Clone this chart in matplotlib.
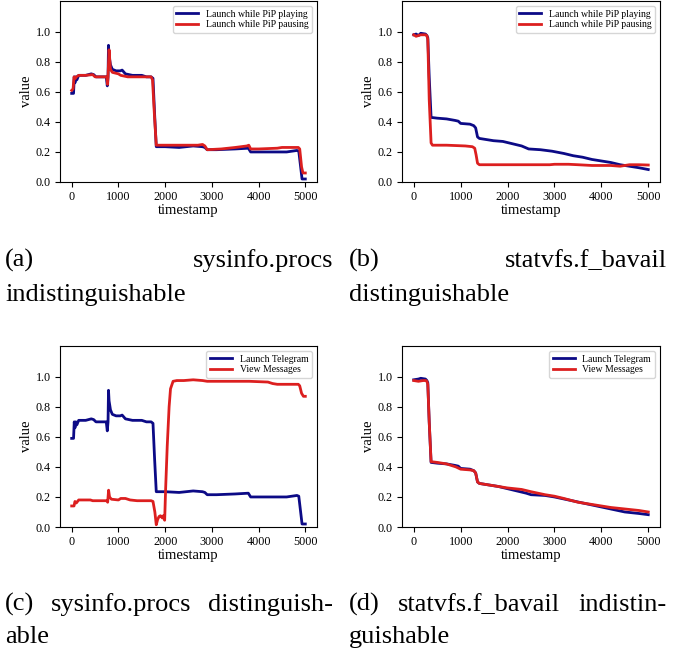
import matplotlib
matplotlib.use("Agg")
import matplotlib.pyplot as plt
from matplotlib.transforms import IdentityTransform

plt.rcParams['font.family'] = ['Liberation Serif', 'DejaVu Serif']

# ---------------- data ----------------
a_play_t = [0, 40, 55, 70, 90, 110, 150, 300, 420, 470, 520, 600, 740, 762, 778, 788, 800, 830, 870, 950, 1040, 1080, 1150, 1300, 1500, 1600, 1700, 1740, 1775, 1810, 2000, 2300, 2600, 2800, 2850, 2900, 3100, 3500, 3780, 3830, 4000, 4300, 4600, 4820, 4860, 4900, 4930, 5000]
a_play_v = [0.59, 0.59, 0.70, 0.66, 0.70, 0.68, 0.71, 0.71, 0.72, 0.715, 0.70, 0.70, 0.70, 0.64, 0.70, 0.91, 0.84, 0.78, 0.75, 0.74, 0.74, 0.745, 0.72, 0.71, 0.71, 0.70, 0.70, 0.69, 0.45, 0.235, 0.235, 0.23, 0.24, 0.235, 0.23, 0.215, 0.215, 0.22, 0.225, 0.20, 0.20, 0.20, 0.20, 0.21, 0.205, 0.10, 0.02, 0.02]
a_pause_t = [0, 30, 50, 80, 100, 150, 300, 450, 500, 600, 750, 770, 790, 800, 830, 870, 1000, 1050, 1200, 1500, 1700, 1730, 1770, 1810, 2000, 2400, 2700, 2800, 2850, 2900, 3200, 3500, 3750, 3790, 3830, 4000, 4400, 4500, 4850, 4880, 4920, 4950, 5000]
a_pause_v = [0.61, 0.62, 0.70, 0.69, 0.70, 0.71, 0.71, 0.715, 0.70, 0.70, 0.70, 0.65, 0.80, 0.88, 0.75, 0.73, 0.72, 0.71, 0.70, 0.70, 0.70, 0.68, 0.45, 0.245, 0.245, 0.245, 0.245, 0.25, 0.24, 0.215, 0.22, 0.23, 0.24, 0.245, 0.22, 0.22, 0.225, 0.23, 0.23, 0.22, 0.10, 0.06, 0.06]

b_play_t = [0, 50, 100, 150, 250, 280, 300, 330, 370, 500, 700, 880, 950, 1000, 1200, 1280, 1320, 1360, 1400, 1500, 1700, 1900, 2100, 2300, 2450, 2700, 2950, 3200, 3400, 3600, 3800, 4000, 4200, 4400, 4600, 4800, 5000]
b_play_v = [0.98, 0.985, 0.975, 0.99, 0.985, 0.975, 0.96, 0.70, 0.43, 0.425, 0.42, 0.41, 0.405, 0.39, 0.385, 0.375, 0.36, 0.30, 0.29, 0.285, 0.275, 0.27, 0.255, 0.24, 0.22, 0.215, 0.205, 0.19, 0.175, 0.165, 0.15, 0.14, 0.13, 0.115, 0.105, 0.095, 0.083]
b_pause_t = [0, 50, 100, 150, 250, 280, 300, 330, 370, 400, 700, 1100, 1250, 1300, 1330, 1360, 1400, 2000, 2900, 3000, 3300, 3500, 3800, 4200, 4400, 4600, 4800, 5000]
b_pause_v = [0.98, 0.97, 0.975, 0.98, 0.98, 0.975, 0.95, 0.55, 0.26, 0.245, 0.245, 0.24, 0.235, 0.225, 0.18, 0.125, 0.115, 0.115, 0.115, 0.118, 0.118, 0.115, 0.11, 0.11, 0.105, 0.115, 0.115, 0.113]

c_launch_t = [0, 40, 55, 70, 90, 110, 150, 300, 420, 470, 520, 600, 740, 762, 778, 788, 800, 830, 870, 950, 1040, 1080, 1150, 1300, 1500, 1600, 1700, 1740, 1775, 1810, 2000, 2300, 2600, 2800, 2850, 2900, 3100, 3500, 3780, 3830, 4000, 4300, 4600, 4820, 4860, 4900, 4930, 5000]
c_launch_v = [0.59, 0.59, 0.70, 0.66, 0.70, 0.68, 0.71, 0.71, 0.72, 0.715, 0.70, 0.70, 0.70, 0.64, 0.70, 0.91, 0.84, 0.78, 0.75, 0.74, 0.74, 0.745, 0.72, 0.71, 0.71, 0.70, 0.70, 0.69, 0.45, 0.235, 0.235, 0.23, 0.24, 0.235, 0.23, 0.215, 0.215, 0.22, 0.225, 0.20, 0.20, 0.20, 0.20, 0.21, 0.205, 0.10, 0.02, 0.02]
c_view_t = [0, 50, 70, 100, 150, 400, 450, 750, 770, 790, 810, 850, 1000, 1050, 1150, 1250, 1400, 1700, 1740, 1780, 1810, 1840, 1870, 1900, 1940, 1960, 1990, 2010, 2045, 2085, 2115, 2170, 2250, 2400, 2600, 2800, 2900, 3500, 3800, 4200, 4300, 4400, 4850, 4880, 4920, 4960, 5000]
c_view_v = [0.14, 0.14, 0.17, 0.16, 0.18, 0.18, 0.175, 0.175, 0.165, 0.245, 0.20, 0.185, 0.18, 0.19, 0.19, 0.18, 0.175, 0.175, 0.17, 0.10, 0.015, 0.05, 0.07, 0.075, 0.06, 0.075, 0.045, 0.25, 0.54, 0.80, 0.92, 0.97, 0.975, 0.975, 0.98, 0.975, 0.97, 0.97, 0.97, 0.965, 0.955, 0.95, 0.95, 0.94, 0.89, 0.87, 0.87]

d_launch_t = [0, 100, 150, 250, 280, 300, 330, 370, 500, 700, 880, 950, 1000, 1200, 1280, 1320, 1360, 1400, 1600, 1800, 2000, 2200, 2400, 2500, 2800, 3000, 3300, 3600, 3900, 4200, 4500, 4800, 5000]
d_launch_v = [0.98, 0.985, 0.99, 0.985, 0.975, 0.96, 0.70, 0.43, 0.425, 0.42, 0.41, 0.405, 0.39, 0.385, 0.375, 0.36, 0.30, 0.29, 0.28, 0.27, 0.255, 0.24, 0.225, 0.215, 0.21, 0.20, 0.18, 0.16, 0.14, 0.12, 0.10, 0.09, 0.082]
d_view_t = [0, 100, 200, 260, 280, 300, 330, 370, 500, 700, 900, 1000, 1200, 1280, 1320, 1360, 1400, 1600, 1800, 2000, 2300, 2500, 2800, 3000, 3200, 3500, 3800, 4200, 4500, 4800, 5000]
d_view_v = [0.975, 0.97, 0.975, 0.975, 0.97, 0.95, 0.70, 0.435, 0.43, 0.42, 0.40, 0.385, 0.38, 0.375, 0.36, 0.30, 0.29, 0.28, 0.27, 0.26, 0.25, 0.235, 0.215, 0.205, 0.19, 0.165, 0.15, 0.13, 0.12, 0.11, 0.10]

pip_labels = ["Launch while PiP playing", "Launch while PiP pausing"]
tg_labels = ["Launch Telegram", "View Messages"]
x_ticks = [0, 1000, 2000, 3000, 4000, 5000]
y_ticks = [0.0, 0.2, 0.4, 0.6, 0.8, 1.0]
captions = [
    [["(a)", "sysinfo.procs"], ["indistinguishable"]],
    [["(b)", "statvfs.f_bavail"], ["distinguishable"]],
    [["(c)", "sysinfo.procs", "distinguish-"], ["able"]],
    [["(d)", "statvfs.f_bavail", "indistin-"], ["guishable"]],
]

# ---------------- figure ----------------
W, H = 674, 648
fig = plt.figure(figsize=(W / 100, H / 100), dpi=100)
BLUE = "#0c0a86"
RED = "#dc1f1f"

panels = [
    ((60, 1, 317, 182), (a_play_t, a_play_v), (a_pause_t, a_pause_v), pip_labels),
    ((402, 1, 660, 182), (b_play_t, b_play_v), (b_pause_t, b_pause_v), pip_labels),
    ((60, 346, 317, 527), (c_launch_t, c_launch_v), (c_view_t, c_view_v), tg_labels),
    ((402, 346, 660, 527), (d_launch_t, d_launch_v), (d_view_t, d_view_v), tg_labels),
]

for (l, t, r, b), s1, s2, labels in panels:
    ax = fig.add_axes([l / W, 1 - b / H, (r - l) / W, (b - t) / H])
    ax.plot(s1[0], s1[1], color=BLUE, lw=2.0, label=labels[0])
    ax.plot(s2[0], s2[1], color=RED, lw=2.0, label=labels[1])
    ax.set_xlim(-250, 5250)
    ax.set_ylim(0, 1.205)
    ax.set_xticks(x_ticks)
    ax.set_yticks(y_ticks)
    ax.tick_params(labelsize=8.7, length=3.5, width=0.8, pad=3)
    ax.set_xlabel("timestamp", fontsize=10.5, labelpad=0.5)
    ax.set_ylabel("value", fontsize=10.5, labelpad=2)
    for sp in ax.spines.values():
        sp.set_linewidth(0.8)
    ax.legend(loc="upper right", fontsize=7, handlelength=2.2,
              borderpad=0.4, labelspacing=0.15, handletextpad=0.8)

# ---------------- captions (justified) ----------------
renderer = fig.canvas.get_renderer()
CAP_SIZE = 19


def place_line(words, x0, x1, y, justify):
    txts = [fig.text(0, 0, w, transform=IdentityTransform(), fontsize=CAP_SIZE,
                     ha="left", va="baseline") for w in words]
    widths = [tx.get_window_extent(renderer).width for tx in txts]
    if justify and len(words) > 1:
        gap = (x1 - x0 - sum(widths)) / (len(words) - 1)
    else:
        gap = 0.28 * CAP_SIZE * 100 / 72
    x = x0
    for tx, w in zip(txts, widths):
        tx.set_position((x, H - y))
        x += w + gap


cols = [(5, 333), (349, 667), (5, 333), (349, 667)]
rows = [(267, 301), (267, 301), (611, 643), (611, 643)]
for cap, (x0, x1), (y1, y2) in zip(captions, cols, rows):
    place_line(cap[0], x0, x1, y1, True)
    place_line(cap[1], x0, x1, y2, False)

fig.savefig("out.png", dpi=100)
